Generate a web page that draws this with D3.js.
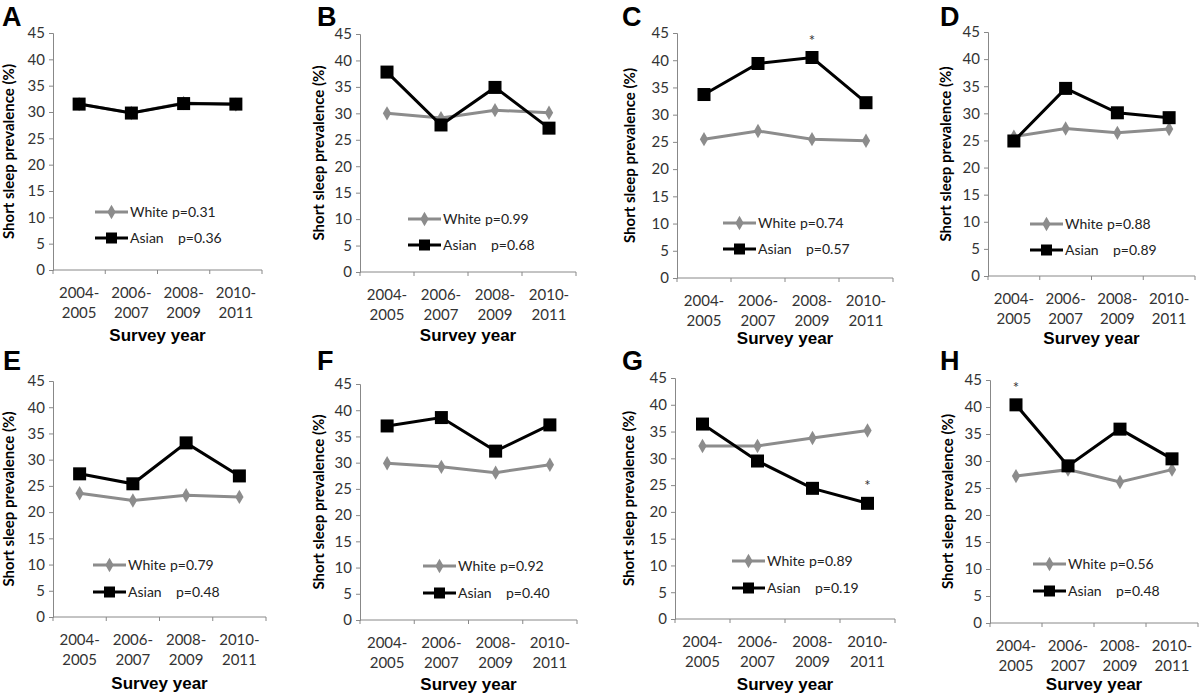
<!DOCTYPE html>
<html>
<head>
<meta charset="utf-8">
<script src="https://cdn.jsdelivr.net/npm/d3@7"></script>
<style>
  body { margin: 0; background: #fff; }
  svg { display: block; }
</style>
</head>
<body>
<div id="chart"></div>
<script>
// Data
var categories = ["2004-2005", "2006-2007", "2008-2009", "2010-2011"];
var yTicks = [0, 5, 10, 15, 20, 25, 30, 35, 40, 45];
var panelLetters = ["A", "B", "C", "D", "E", "F", "G", "H"];

var whiteSeries = [
  [31.5, 29.8, 31.7, 31.4],
  [30.0, 29.1, 30.6, 30.1],
  [25.5, 27.0, 25.5, 25.2],
  [25.7, 27.2, 26.4, 27.1],
  [23.6, 22.2, 23.2, 22.9],
  [29.9, 29.2, 28.1, 29.6],
  [32.3, 32.3, 33.8, 35.2],
  [27.2, 28.4, 26.1, 28.4]
];
var asianSeries = [
  [31.5, 29.8, 31.6, 31.5],
  [37.8, 27.8, 34.9, 27.2],
  [33.7, 39.4, 40.5, 32.2],
  [24.9, 34.6, 30.1, 29.2],
  [27.3, 25.4, 33.2, 26.9],
  [37.0, 38.6, 32.2, 37.2],
  [36.4, 29.5, 24.4, 21.6],
  [40.4, 29.1, 35.9, 30.4]
];
var whiteP = ["0.31", "0.99", "0.74", "0.88", "0.79", "0.92", "0.89", "0.56"];
var asianP = ["0.36", "0.68", "0.57", "0.89", "0.48", "0.40", "0.19", "0.48"];
// index of the year marked with an asterisk (Asian series), -1 = none
var starIndex = [-1, -1, 2, -1, -1, -1, 3, 0];

// Panel placement on the page
var layout = [
  {x0: 53,  x1: 262,  yTop: 33,  yBot: 270, legX: 95,   legY: 212, titleX: 8,   letX: 2,   letY: 26,  xTitleY: 341},
  {x0: 360, x1: 576,  yTop: 34,  yBot: 272, legX: 408,  legY: 219, titleX: 318, letX: 317, letY: 26,  xTitleY: 341},
  {x0: 677, x1: 893,  yTop: 33,  yBot: 278, legX: 723,  legY: 223, titleX: 629, letX: 622, letY: 26,  xTitleY: 344},
  {x0: 988, x1: 1195, yTop: 32,  yBot: 276, legX: 1030, legY: 224, titleX: 945, letX: 940, letY: 26,  xTitleY: 344},
  {x0: 53,  x1: 266,  yTop: 381, yBot: 617, legX: 93,   legY: 565, titleX: 8,   letX: 3,   letY: 370, xTitleY: 689},
  {x0: 360, x1: 577,  yTop: 384, yBot: 620, legX: 423,  legY: 566, titleX: 318, letX: 317, letY: 370, xTitleY: 690},
  {x0: 675, x1: 895,  yTop: 378, yBot: 619, legX: 732,  legY: 561, titleX: 628, letX: 622, letY: 370, xTitleY: 690},
  {x0: 990, x1: 1198, yTop: 380, yBot: 623, legX: 1033, legY: 564, titleX: 947, letX: 940, letY: 370, xTitleY: 690}
];

var svgWidth = 1200;
var svgHeight = 696;
var grayColor = "#8c8c8c";
var labelFont = "Lato, 'Open Sans', sans-serif";
var boldFont = "'Liberation Sans', Arial, sans-serif";

var svg = d3.select("#chart")
  .append("svg")
  .attr("width", svgWidth)
  .attr("height", svgHeight);

var diamond = d3.symbol().type(d3.symbolDiamond).size(60);

panelLetters.forEach(function(letter, i) {
  var L = layout[i];
  var g = svg.append("g");

  // Scales
  var xScale = d3.scaleBand()
    .domain(categories)
    .range([L.x0, L.x1]);

  var yScale = d3.scaleLinear()
    .domain([0, 45])
    .range([L.yBot, L.yTop]);

  var xMid = function(c) { return xScale(c) + xScale.bandwidth() / 2; };

  // Y axis
  var leftAxis = d3.axisLeft(yScale).tickValues(yTicks).tickSize(4).tickPadding(4);
  var yAxisG = g.append("g")
    .attr("transform", `translate(${L.x0}, 0)`)
    .call(leftAxis);
  yAxisG.select(".domain").attr("stroke", "#888").attr("stroke-width", 1);
  yAxisG.selectAll(".tick line").attr("stroke", "#888");
  yAxisG.selectAll(".tick text")
    .attr("fill", "#333")
    .style("font-family", labelFont)
    .style("font-size", "15px");

  // X axis: ticks on band edges, labels on two lines
  var edges = categories.map(function(c) { return xScale(c); }).concat([L.x1]);
  g.append("line")
    .attr("x1", L.x0).attr("x2", L.x1)
    .attr("y1", L.yBot).attr("y2", L.yBot)
    .attr("stroke", "#888");
  g.selectAll(".xtick")
    .data(edges)
    .enter()
    .append("line")
    .attr("x1", d => d).attr("x2", d => d)
    .attr("y1", L.yBot).attr("y2", L.yBot + 4)
    .attr("stroke", "#888");

  var catText = g.selectAll(".cat")
    .data(categories)
    .enter()
    .append("text")
    .attr("text-anchor", "middle")
    .attr("fill", "#333")
    .style("font-family", labelFont)
    .style("font-size", "15px");
  catText.append("tspan")
    .attr("x", d => xMid(d))
    .attr("y", L.yBot + 28)
    .text(d => d.split("-")[0] + "-");
  catText.append("tspan")
    .attr("x", d => xMid(d))
    .attr("y", L.yBot + 48)
    .text(d => d.split("-")[1]);

  // Axis titles
  g.append("text")
    .attr("x", (L.x0 + L.x1) / 2)
    .attr("y", L.xTitleY)
    .attr("text-anchor", "middle")
    .style("font-family", boldFont)
    .style("font-weight", "bold")
    .style("font-size", "17px")
    .text("Survey year");

  g.append("text")
    .attr("transform", `translate(${L.titleX + 6}, ${(L.yTop + L.yBot) / 2}) rotate(-90)`)
    .attr("text-anchor", "middle")
    .style("font-family", labelFont)
    .style("font-weight", "bold")
    .style("font-size", "15px")
    .text("Short sleep prevalence (%)");

  // Panel letter
  g.append("text")
    .attr("x", L.letX)
    .attr("y", L.letY)
    .style("font-family", boldFont)
    .style("font-weight", "bold")
    .style("font-size", "27px")
    .text(letter);

  // Lines
  var line = d3.line()
    .x((d, j) => xMid(categories[j]))
    .y(d => yScale(d));

  g.append("path")
    .attr("d", line(whiteSeries[i]))
    .attr("fill", "none")
    .attr("stroke", grayColor)
    .attr("stroke-width", 3);

  g.selectAll(".wpt")
    .data(whiteSeries[i])
    .enter()
    .append("path")
    .attr("d", diamond)
    .attr("transform", (d, j) => `translate(${xMid(categories[j])}, ${yScale(d)})`)
    .attr("fill", grayColor);

  g.append("path")
    .attr("d", line(asianSeries[i]))
    .attr("fill", "none")
    .attr("stroke", "black")
    .attr("stroke-width", 3);

  g.selectAll(".apt")
    .data(asianSeries[i])
    .enter()
    .append("rect")
    .attr("x", (d, j) => xMid(categories[j]) - 6.5)
    .attr("y", d => yScale(d) - 6.5)
    .attr("width", 13)
    .attr("height", 13)
    .attr("fill", "black");

  // Asterisk
  if (starIndex[i] >= 0) {
    var k = starIndex[i];
    g.append("text")
      .attr("x", xMid(categories[k]))
      .attr("y", yScale(asianSeries[i][k]) - 12)
      .attr("text-anchor", "middle")
      .attr("fill", "#333")
      .style("font-family", labelFont)
      .style("font-size", "15px")
      .text("*");
  }

  // Legend
  var legendRows = [
    {name: "White", p: whiteP[i], color: grayColor, gap: 42, dy: 0},
    {name: "Asian", p: asianP[i], color: "black", gap: 48, dy: L.legY < 300 ? 26 : 27}
  ];
  legendRows.forEach(function(r, ri) {
    var ly = L.legY + r.dy;
    g.append("line")
      .attr("x1", L.legX).attr("x2", L.legX + 33)
      .attr("y1", ly).attr("y2", ly)
      .attr("stroke", r.color)
      .attr("stroke-width", 3);
    if (ri === 0) {
      g.append("path")
        .attr("d", diamond)
        .attr("transform", `translate(${L.legX + 16.5}, ${ly})`)
        .attr("fill", r.color);
    } else {
      g.append("rect")
        .attr("x", L.legX + 11).attr("y", ly - 5.5)
        .attr("width", 11).attr("height", 11)
        .attr("fill", r.color);
    }
    g.append("text")
      .attr("x", L.legX + 35)
      .attr("y", ly + 5)
      .attr("fill", "#222")
      .style("font-family", labelFont)
      .style("font-size", "14px")
      .text(r.name);
    g.append("text")
      .attr("x", L.legX + 35 + r.gap)
      .attr("y", ly + 5)
      .attr("fill", "#222")
      .style("font-family", labelFont)
      .style("font-size", "14px")
      .text("p=" + r.p);
  });
});
</script>
</body>
</html>
